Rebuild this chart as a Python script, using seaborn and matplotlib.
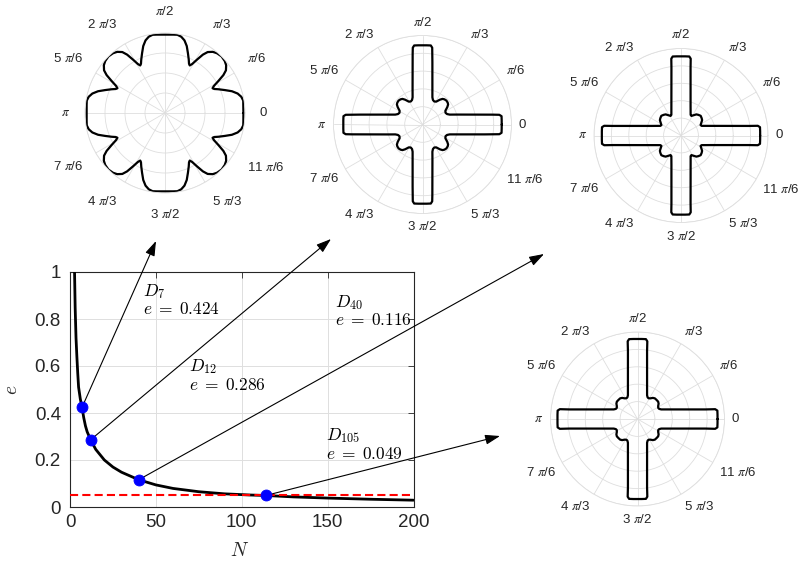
import numpy as np
import pandas as pd
import matplotlib
matplotlib.use("Agg")
import matplotlib.pyplot as plt
import matplotlib.transforms as mtransforms
import seaborn as sns

# ---------------- data ----------------
N_curve = [2.6, 3, 3.5, 4, 4.5, 5, 6, 7, 8, 9, 10, 12, 15, 20, 25, 30, 40, 50,
           60, 75, 90, 105, 114, 130, 150, 175, 200]
e_curve = [1.02, 0.85, 0.72, 0.64, 0.57, 0.51, 0.46, 0.424, 0.38, 0.345, 0.32,
           0.286, 0.245, 0.20, 0.17, 0.148, 0.116, 0.094, 0.079, 0.065, 0.056,
           0.051, 0.049, 0.043, 0.038, 0.033, 0.029]

N_sel = [7, 12, 40, 114]
e_sel = [0.424, 0.286, 0.116, 0.049]
sel_names = ["D_{7}", "D_{12}", "D_{40}", "D_{105}"]
sel_e_text = ["0.424", "0.286", "0.116", "0.049"]
e_threshold = 0.05

x_ticks = [0, 50, 100, 150, 200]
y_ticks = [0, 0.2, 0.4, 0.6, 0.8, 1]
y_tick_labels = ["0", "0.2", "0.4", "0.6", "0.8", "1"]

theta_tick_deg = [0, 30, 60, 90, 120, 150, 180, 210, 240, 270, 300, 330]
theta_tick_labels = ["0", r"$\pi$/6", r"$\pi$/3", r"$\pi$/2", r"2 $\pi$/3",
                     r"5 $\pi$/6", r"$\pi$", r"7 $\pi$/6", r"4 $\pi$/3",
                     r"3 $\pi$/2", r"5 $\pi$/3", r"11 $\pi$/6"]

# radius profiles over one eighth of a turn (0..45 deg)
s1_deg = [0, 3, 6, 9, 12, 15, 18, 21, 24, 26, 27.5, 29, 31, 33, 35, 38, 41, 45]
s1_r = [0.98, 0.981, 0.985, 0.99, 0.975, 0.94, 0.88, 0.80, 0.73, 0.685, 0.67,
        0.70, 0.78, 0.87, 0.93, 0.97, 0.99, 1.0]

s2_deg = [0, 3, 6, 7.2, 8, 9, 10, 12, 14, 16, 18, 20, 23, 27, 31, 35, 38, 41, 45]
s2_r = [0.89, 0.891, 0.893, 0.87, 0.795, 0.71, 0.64, 0.535, 0.46, 0.405, 0.36,
        0.325, 0.30, 0.29, 0.30, 0.34, 0.365, 0.375, 0.38]

s3_deg = [0, 3, 6, 7.2, 8, 9, 10, 12, 14, 16, 18, 20, 22, 25, 28, 32, 36, 40, 45]
s3_r = [0.91, 0.911, 0.913, 0.89, 0.79, 0.703, 0.633, 0.529, 0.455, 0.399,
        0.356, 0.322, 0.294, 0.262, 0.255, 0.275, 0.30, 0.31, 0.32]

s4_deg = [0, 3, 6, 7.2, 8, 9, 10, 12, 14, 16, 18, 20, 22, 25, 28, 32, 36, 40, 45]
s4_r = [0.92, 0.921, 0.923, 0.90, 0.79, 0.703, 0.633, 0.529, 0.455, 0.399,
        0.356, 0.322, 0.294, 0.275, 0.27, 0.28, 0.30, 0.31, 0.31]

# ---------------- style ----------------
sns.set_style("white")
plt.rcParams["font.family"] = ["Liberation Sans", "DejaVu Sans"]
plt.rcParams["mathtext.fontset"] = "cm"

TXT = "#262626"
GRID = "#dedede"

W, H = 801, 561
fig = plt.figure(figsize=(W / 100, H / 100), dpi=100)
fig.patch.set_facecolor("white")


def px_axes(x0, y0, x1, y1):
    return [x0 / W, 1 - y1 / H, (x1 - x0) / W, (y1 - y0) / H]


# ---------------- main axes ----------------
ax = fig.add_axes(px_axes(70, 272, 413.5, 507))
sns.lineplot(x=N_curve, y=e_curve, ax=ax, color="black", linewidth=2.0,
             sort=False, estimator=None, zorder=3)
sns.lineplot(x=[0, 200], y=[e_threshold, e_threshold], ax=ax, color="#ff0000",
             linewidth=1.5, linestyle=(0, (3.9, 2.0)), sort=False,
             estimator=None, zorder=4)
sns.scatterplot(x=N_sel, y=e_sel, ax=ax, color="#0000ff", edgecolor="#0000ff",
                s=62, zorder=6, clip_on=False)

ax.set_xlim(0, 200)
ax.set_ylim(0, 1)
ax.set_xticks(x_ticks)
ax.set_xticklabels([str(v) for v in x_ticks])
ax.set_yticks(y_ticks)
ax.set_yticklabels(y_tick_labels)
ax.grid(True, color=GRID, linewidth=0.7)
ax.tick_params(direction="in", length=4, width=0.6, top=True, right=True,
               labelsize=13.5, colors=TXT)
ax.tick_params(axis="x", pad=5)
ax.tick_params(axis="y", pad=6.5)
for sp in ax.spines.values():
    sp.set_color(TXT)
    sp.set_linewidth(0.8)
ax.set_xlabel(r"$N$", fontsize=14, color=TXT)
ax.set_ylabel(r"$e$", fontsize=14, color=TXT)
ax.xaxis.set_label_coords(0.495, -0.15)
ax.yaxis.set_label_coords(-0.142, 0.5)

# annotation texts (upper-left corner positions in data units)
text_pos = [(42.3, 0.959), (69.3, 0.637), (154.3, 0.912), (149, 0.345)]
for (tx, ty), nm, et in zip(text_pos, sel_names, sel_e_text):
    ax.text(tx, ty, rf"${nm}$" + "\n" + rf"$e\;=\;{et}$", ha="left", va="top",
            fontsize=12.5, linespacing=1.05, color="black", zorder=7)

# arrows from the selected points to the polar plots (figure pixels, from top)
arrow_tips = [(156, 241), (331, 239), (544, 254), (500, 436)]
for (n, e), (px, py) in zip(zip(N_sel, e_sel), arrow_tips):
    ax.annotate("", xy=(px, H - py), xycoords="figure pixels",
                xytext=(n, e), textcoords="data",
                arrowprops=dict(arrowstyle="-|>,head_length=0.9,head_width=0.3",
                                color="black", lw=0.8, shrinkA=0, shrinkB=0,
                                mutation_scale=10),
                annotation_clip=False, zorder=5)


# ---------------- polar plots ----------------
def full_outline(deg, r):
    deg = np.asarray(deg, float)
    r = np.asarray(r, float)
    qd = np.concatenate([deg, 90 - deg[::-1][1:]])
    qr = np.concatenate([r, r[::-1][1:]])
    th = np.concatenate([qd[:-1] + 90 * k for k in range(4)] + [[360.0]])
    rr = np.concatenate([qr[:-1] for _ in range(4)] + [[qr[0]]])
    return np.deg2rad(th), rr


rings4 = [0.25, 0.5, 0.75, 1.0]
rings5 = [0.2, 0.4, 0.6, 0.8, 1.0]
polar_specs = [
    (165, 113, 80, rings4, 15, s1_deg, s1_r),
    (422.5, 124.5, 89, rings5, 7, s2_deg, s2_r),
    (681, 135.5, 87, rings5, 7, s3_deg, s3_r),
    (637.5, 419, 87, rings5, 7, s4_deg, s4_r),
]

for cx, cy, R, rings, gap, deg, rr in polar_specs:
    pax = fig.add_axes(px_axes(cx - R, cy - R, cx + R, cy + R), projection="polar")
    th, rad = full_outline(deg, rr)
    df = pd.DataFrame({"theta": th, "r": rad})
    sns.lineplot(data=df, x="theta", y="r", ax=pax, color="black",
                 linewidth=1.6, sort=False, estimator=None)
    pax.set_ylim(0, 1)
    pax.set_yticks(rings)
    pax.set_yticklabels([])
    pax.set_xticks(np.deg2rad(theta_tick_deg))
    pax.set_xticklabels([])
    pax.set_xlabel("")
    pax.set_ylabel("")
    pax.tick_params(length=0)
    pax.grid(True, color=GRID, linewidth=0.6)
    pax.spines["polar"].set_color(GRID)
    pax.spines["polar"].set_linewidth(0.6)
    for d, lab in zip(theta_tick_deg, theta_tick_labels):
        a = np.deg2rad(d)
        ca, sa = np.cos(a), np.sin(a)
        ha = "center" if abs(ca) < 1e-6 else ("left" if ca > 0 else "right")
        va = "center" if abs(sa) < 1e-6 else ("bottom" if sa > 0 else "top")
        tr = mtransforms.offset_copy(pax.transData, fig=fig, x=gap * ca,
                                     y=gap * sa, units="dots")
        pax.text(a, 1.0, lab, transform=tr, ha=ha, va=va, fontsize=9.5,
                 color=TXT, math_fontfamily="stix", clip_on=False)

fig.savefig("out.png", dpi=100, facecolor="white")
